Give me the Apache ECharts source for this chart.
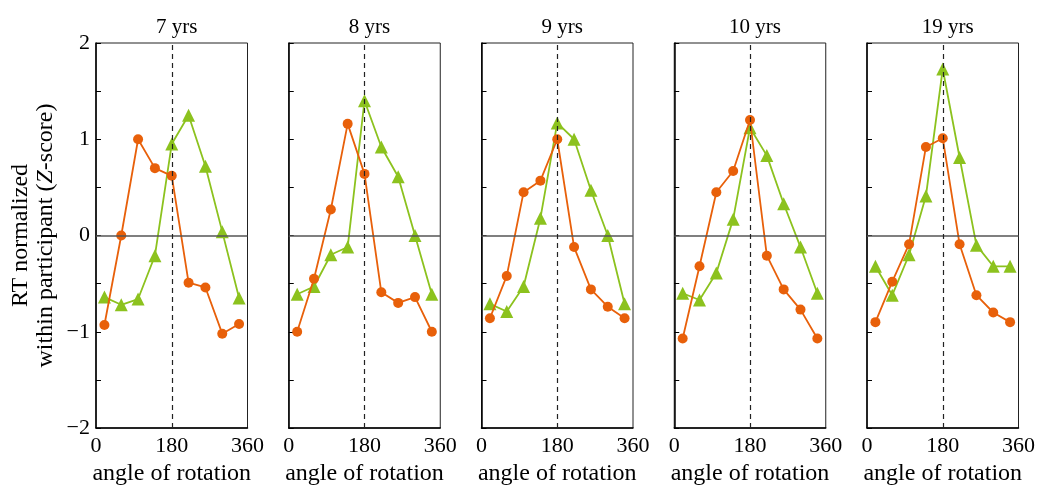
<!DOCTYPE html>
<html>
<head>
<meta charset="utf-8">
<script src="https://cdn.jsdelivr.net/npm/echarts@6/dist/echarts.min.js"></script>
<style>
html,body{margin:0;padding:0;background:#fff;}
#chart{width:1039px;height:486px;}
</style>
</head>
<body>
<div id="chart"></div>
<script>
// angles of rotation (deg) shared by all panels
const angles = [20, 60, 100, 140, 180, 220, 260, 300, 340];

const panelTitles = ["7 yrs", "8 yrs", "9 yrs", "10 yrs", "19 yrs"];

// orange circles
const circleSeries = [
    [-0.93, 0.00, 1.00, 0.70, 0.62, -0.49, -0.54, -1.02, -0.92],
    [-1.00, -0.45, 0.27, 1.16, 0.64, -0.59, -0.70, -0.64, -1.00],
    [-0.86, -0.42, 0.45, 0.57, 1.00, -0.12, -0.56, -0.74, -0.86],
    [-1.07, -0.32, 0.45, 0.67, 1.20, -0.21, -0.56, -0.77, -1.07],
    [-0.90, -0.48, -0.09, 0.92, 1.01, -0.09, -0.62, -0.80, -0.90]
];

// green triangles
const triangleSeries = [
    [-0.64, -0.72, -0.66, -0.21, 0.95, 1.25, 0.72, 0.04, -0.65],
    [-0.61, -0.53, -0.20, -0.12, 1.40, 0.92, 0.61, 0.00, -0.61],
    [-0.71, -0.79, -0.53, 0.18, 1.17, 1.00, 0.47, 0.00, -0.71],
    [-0.60, -0.67, -0.39, 0.17, 1.12, 0.83, 0.33, -0.12, -0.60],
    [-0.32, -0.62, -0.20, 0.41, 1.73, 0.81, -0.10, -0.32, -0.32]
];

const xTicks = [0, 180, 360];

const ORANGE = "#e8600a";
const GREEN = "#8cc21e";
const FONT = "Liberation Serif";

const chart = echarts.init(document.getElementById("chart"));

const grids = [], xAxes = [], yAxes = [], series = [], titles = [];

panelTitles.forEach((name, i) => {

    const left = 96 + 192.75 * i;
    const width = 151.5;

    grids.push({
        left: left,
        top: 43,
        width: width,
        height: 385,
        show: true,
        borderColor: "#222",
        borderWidth: 1,
        containLabel: false,
        outerBoundsMode: "none"
    });

    titles.push({
        text: name,
        left: left + width / 2,
        top: 12,
        textAlign: "center",
        textStyle: {
            fontFamily: FONT,
            fontSize: 21,
            fontWeight: "normal",
            color: "#000"
        }
    });

    xAxes.push({
        gridIndex: i,
        type: "value",
        min: 0,
        max: 360,
        interval: 180,
        axisLine: {show: true, onZero: false, lineStyle: {color: "#000", width: 1.5}},
        axisTick: {show: false},
        splitLine: {show: false},
        axisLabel: {
            fontFamily: FONT,
            fontSize: 22,
            color: "#000",
            margin: 7,
            customValues: xTicks
        },
        name: "angle of rotation",
        nameLocation: "middle",
        nameGap: 34,
        nameTextStyle: {fontFamily: FONT, fontSize: 24, color: "#000"}
    });

    yAxes.push({
        gridIndex: i,
        type: "value",
        min: -2,
        max: 2,
        interval: 0.5,
        axisLine: {show: true, lineStyle: {color: "#000", width: 1.5}},
        axisTick: {show: true, inside: true, length: 5, lineStyle: {color: "#000", width: 1}},
        splitLine: {show: false},
        axisLabel: {
            show: i === 0,
            fontFamily: FONT,
            fontSize: 22,
            color: "#000",
            margin: 6,
            formatter: v => Number.isInteger(v) ? (v < 0 ? "\u2212" + Math.abs(v) : String(v)) : ""
        },
        name: i === 0 ? "{a|RT normalized}\n{a|within participant (}{i|Z}{a|-score)}" : "",
        nameLocation: "middle",
        nameRotate: 90,
        nameGap: 38,
        nameTextStyle: {
            lineHeight: 25,
            rich: {
                a: {fontFamily: FONT, fontSize: 24, color: "#000", lineHeight: 25},
                i: {fontFamily: FONT, fontSize: 24, color: "#000", fontStyle: "italic", lineHeight: 25}
            }
        }
    });

    series.push({
        type: "line",
        xAxisIndex: i,
        yAxisIndex: i,
        data: angles.map((a, k) => [a, triangleSeries[i][k]]),
        symbol: "triangle",
        symbolSize: 13,
        itemStyle: {color: GREEN},
        lineStyle: {color: GREEN, width: 1.8},
        z: 3,
        markLine: {
            silent: true,
            symbol: "none",
            label: {show: false},
            animation: false,
            data: [
                {yAxis: 0, lineStyle: {color: "#555", width: 1.5, type: "solid"}},
                {xAxis: 180, lineStyle: {color: "#222", width: 1.2, type: [5, 4]}}
            ]
        }
    });

    series.push({
        type: "line",
        xAxisIndex: i,
        yAxisIndex: i,
        data: angles.map((a, k) => [a, circleSeries[i][k]]),
        symbol: "circle",
        symbolSize: 10,
        itemStyle: {color: ORANGE},
        lineStyle: {color: ORANGE, width: 1.8},
        z: 4
    });
});

chart.setOption({
    animation: false,
    title: titles,
    grid: grids,
    xAxis: xAxes,
    yAxis: yAxes,
    series: series
});
</script>
</body>
</html>
